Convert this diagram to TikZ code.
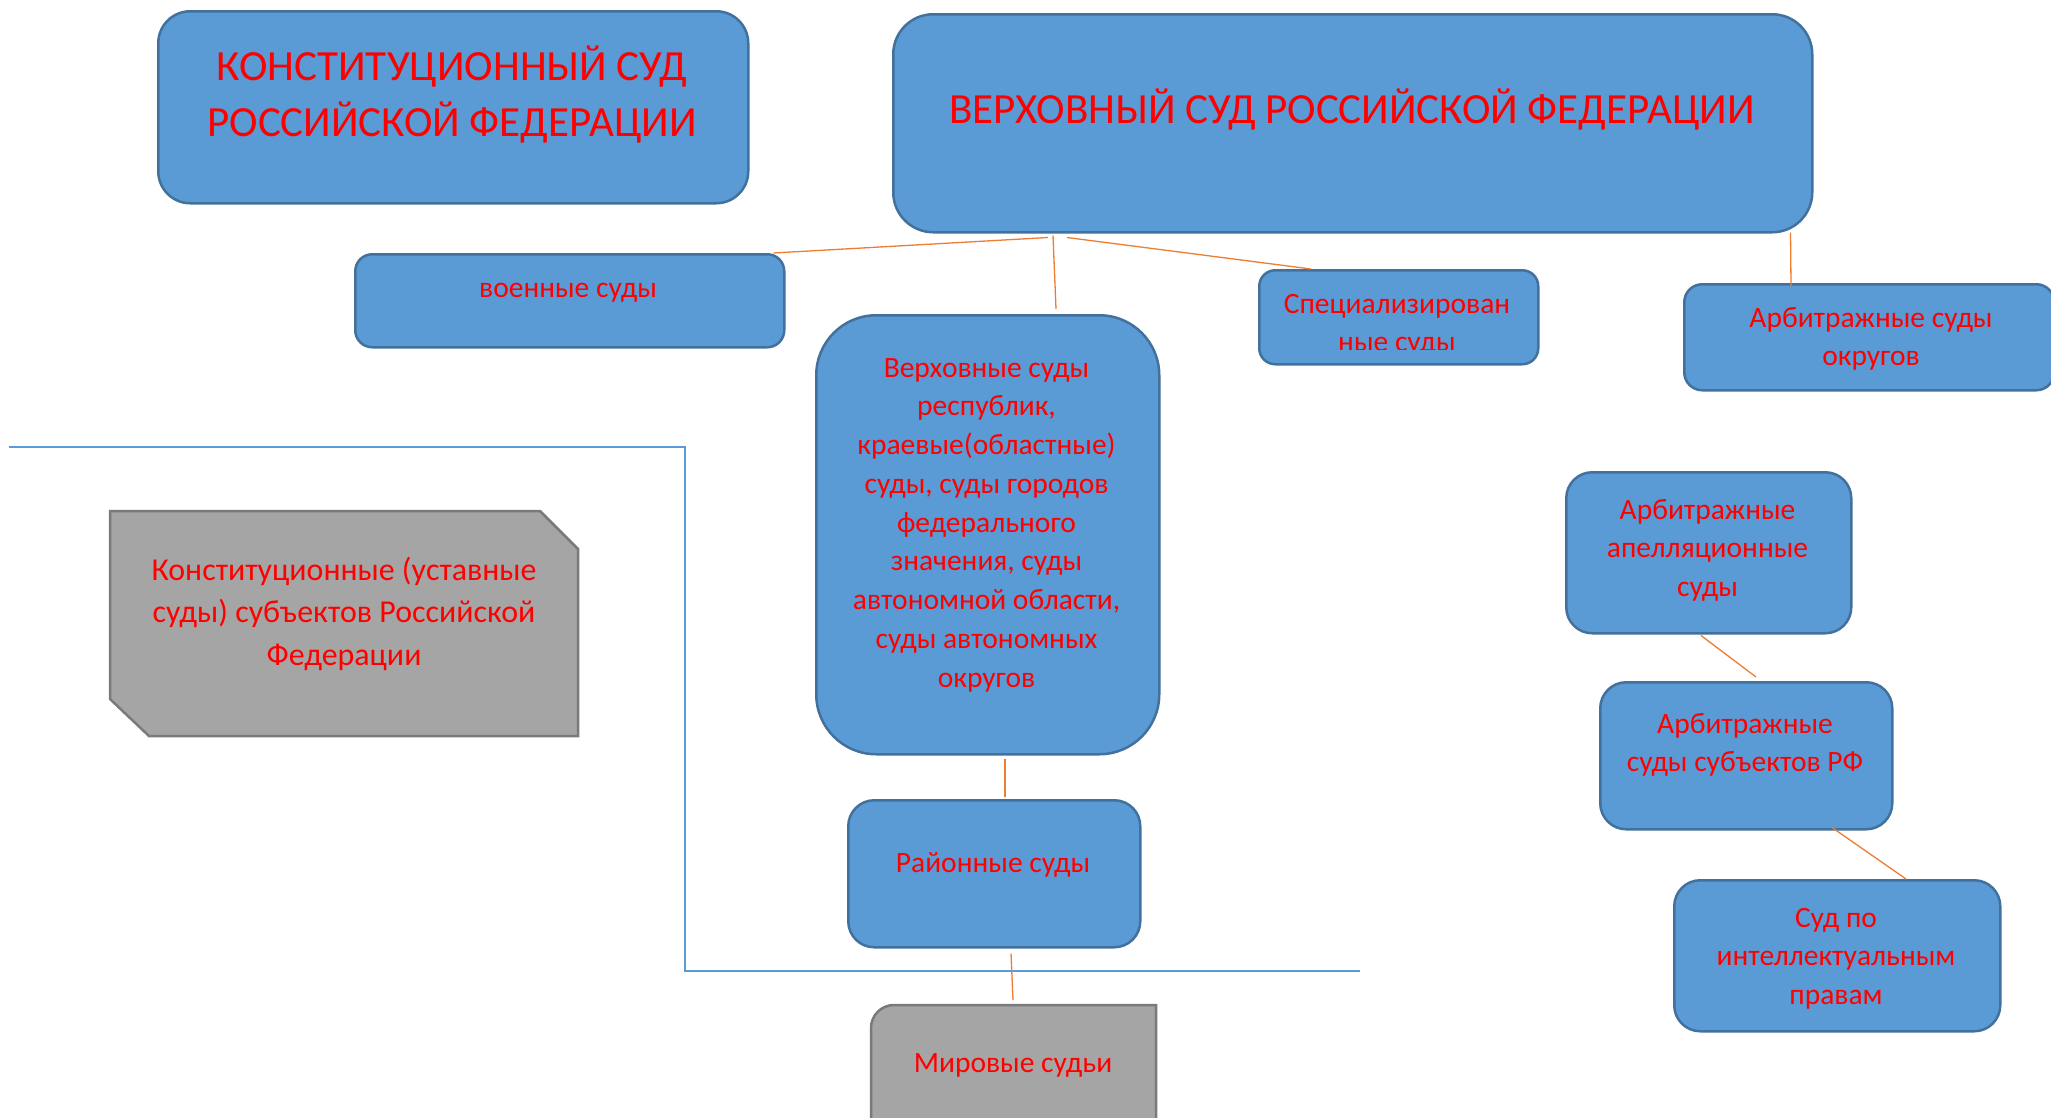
\documentclass[tikz,border=0pt]{standalone}
\usepackage{fontspec}
\setmainfont{Carlito}
\definecolor{boxblue}{HTML}{5B9BD5}
\definecolor{boxedge}{HTML}{41719C}
\definecolor{grayfill}{HTML}{A5A5A5}
\definecolor{grayedge}{HTML}{7A7A7A}
\definecolor{connc}{HTML}{ED7D31}
\definecolor{framec}{HTML}{5B9BD5}
\begin{document}
\begin{tikzpicture}[x=1pt,y=-1pt,
  bbox/.style={draw=boxedge,fill=boxblue,line width=2.5pt,anchor=north west,inner sep=0pt},
  gbox/.style={draw=grayedge,fill=grayfill,line width=2.5pt},
  txt/.style={text=red,align=center,anchor=base,inner sep=0pt},
  fbig/.style={font=\fontsize{43}{56}\selectfont},
  fmid/.style={font=\fontsize{29.5}{38.75}\selectfont},
  fgray/.style={font=\fontsize{31.9}{42.5}\selectfont},
  conn/.style={draw=connc,line width=1.3pt},
  frameline/.style={draw=framec,line width=1.5pt}]
\useasboundingbox (0,0) rectangle (2051,1117);
\fill[white] (0,0) rectangle (2051,1117);

% frame line
\coordinate (f1) at (9,447);
\coordinate (f2) at (685,447);
\coordinate (f3) at (685,971);
\coordinate (f4) at (1360,971);
\draw[frameline] (f1) -- (f2) -- (f3) -- (f4);

% blue boxes
\node[bbox,rounded corners=32pt,minimum width=590pt,minimum height=192pt] (ks) at (157,10) {};
\node[bbox,rounded corners=40pt,minimum width=919pt,minimum height=218pt] (vs) at (892,13) {};
\node[bbox,rounded corners=17pt,minimum width=429pt,minimum height=93pt] (mil) at (354,253) {};
\node[bbox,rounded corners=60pt,minimum width=343pt,minimum height=439pt] (verkh) at (815,314) {};
\node[bbox,rounded corners=16pt,minimum width=279pt,minimum height=94pt] (spec) at (1258,269) {};
\node[bbox,rounded corners=18pt,minimum width=370pt,minimum height=106pt] (arbo) at (1683,283) {};
\node[bbox,rounded corners=26pt,minimum width=292pt,minimum height=147pt] (rai) at (847,799) {};
\node[bbox,rounded corners=26pt,minimum width=285pt,minimum height=161pt] (apel) at (1565,471) {};
\node[bbox,rounded corners=26pt,minimum width=292pt,minimum height=147pt] (subj) at (1599,681) {};
\node[bbox,rounded corners=26pt,minimum width=326pt,minimum height=151pt] (ip) at (1673,879) {};

% gray shapes
\draw[gbox] (110,511) -- (540,511) -- (578,549) -- (578,736) -- (149,736) -- (110,699) -- cycle;
\draw[gbox] (871,1130) -- (871,1028) arc[start angle=180,end angle=270,radius=23] -- (1156,1005) -- (1156,1130) -- cycle;
\coordinate (mirtop) at (1013,1005);

% texts (anchor = baseline of last line)
\node[txt,fbig] (ks-t) at (452,136) {КОНСТИТУЦИОННЫЙ СУД\\РОССИЙСКОЙ ФЕДЕРАЦИИ};
\node[txt,fbig] (vs-t) at (1352,123) {ВЕРХОВНЫЙ СУД РОССИЙСКОЙ ФЕДЕРАЦИИ};
\node[txt,fmid] (mil-t) at (568,297) {военные суды};
\begin{scope}
\clip (1258,269) rectangle (1537,349);
\node[txt,fmid] (spec-t) at (1397,351.75) {Специализирован\\ные суды};
\end{scope}
\node[txt,fmid] (arbo-t) at (1871,365.75) {Арбитражные суды\\округов};
\node[txt,fmid] (verkh-t) at (986.5,687) {Верховные суды\\республик,\\краевые(областные)\\суды, суды городов\\федерального\\значения, суды\\автономной области,\\суды автономных\\округов};
\node[txt,fgray] (kg-t) at (344,665) {Конституционные (уставные\\суды) субъектов Российской\\Федерации};
\node[txt,fmid] (rai-t) at (993,872) {Районные суды};
\node[txt,fmid] (mir-t) at (1013,1072) {Мировые судьи};
\node[txt,fmid] (apel-t) at (1707.5,596.5) {Арбитражные\\апелляционные\\суды};
\node[txt,fmid] (subj-t) at (1745,771.75) {Арбитражные\\суды субъектов РФ};
\node[txt,fmid] (ip-t) at (1836,1004.5) {Суд по\\интеллектуальным\\правам};

% connectors
\draw[conn] ([xshift=156pt,yshift=-4pt]vs.south west) -- ([xshift=-12pt]mil.north east);
\draw[conn] ([xshift=161pt,yshift=-2pt]vs.south west) -- ([xshift=241pt,yshift=5pt]verkh.north west);
\draw[conn] ([xshift=175pt,yshift=-4pt]vs.south west) -- ([xshift=53pt]spec.north west);
\draw[conn] ([xshift=-23pt,yshift=1pt]vs.south east) -- ([xshift=108pt,yshift=-3pt]arbo.north west);
\draw[conn] ([xshift=190pt,yshift=-3pt]verkh.south west) -- ([xshift=158pt,yshift=2pt]rai.north west);
\draw[conn] ([xshift=164pt,yshift=-5pt]rai.south west) -- ([yshift=5pt]mirtop);
\draw[conn] ([xshift=136pt,yshift=-1pt]apel.south west) -- ([xshift=157pt,yshift=4pt]subj.north west);
\draw[conn] ([xshift=233pt,yshift=3pt]subj.south west) -- ([xshift=233pt]ip.north west);
\end{tikzpicture}
\end{document}
